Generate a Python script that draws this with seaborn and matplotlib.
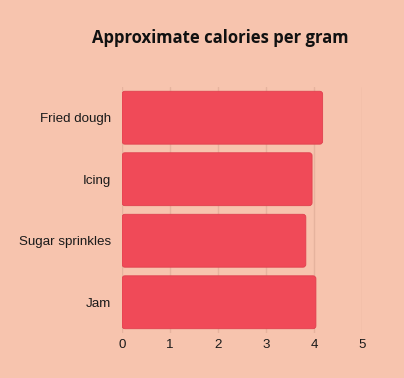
import matplotlib
matplotlib.use("Agg")
import matplotlib.pyplot as plt
from matplotlib.patches import FancyBboxPatch
import seaborn as sns
import pandas as pd

foods = ["Fried dough", "Icing", "Sugar sprinkles", "Jam"]
calories = [4.18, 3.96, 3.83, 4.04]

bg = "#f7c4ae"
bar_color = "#f04a58"
grid_color = "#e6b39e"

df = pd.DataFrame({"food": foods, "calories": calories})

sns.set_theme(style="white")
plt.rcParams["font.family"] = ["Liberation Sans", "DejaVu Sans"]

fig = plt.figure(figsize=(4.04, 3.78), dpi=100, facecolor=bg)
ax = fig.add_axes([0.302, 0.119, 0.594, 0.651])
ax.set_facecolor(bg)

sns.barplot(data=df, x="calories", y="food", color=bar_color, saturation=1,
            width=0.86, ax=ax)

ax.set_xlim(0, 5)
ax.set_ylim(3.5, -0.5)

# swap the plain rectangles for slightly rounded ones
for p in list(ax.patches):
    x0, y0 = p.get_x(), p.get_y()
    w, h = p.get_width(), p.get_height()
    rounded = FancyBboxPatch((x0, y0), w, h, boxstyle="round,pad=0,rounding_size=0.06",
                             mutation_aspect=0.78, facecolor=bar_color,
                             edgecolor="#e0404e", linewidth=0.6, zorder=3)
    p.remove()
    ax.add_patch(rounded)

ax.set_xticks([0, 1, 2, 3, 4, 5])
ax.xaxis.grid(True, color=grid_color, linewidth=1, zorder=0)
ax.set_axisbelow(True)
for s in ax.spines.values():
    s.set_visible(False)
ax.tick_params(axis="both", length=0, labelsize=9.6, colors="#1a1a1a")
ax.tick_params(axis="y", pad=8)
ax.tick_params(axis="x", pad=4)
ax.set_xlabel("")
ax.set_ylabel("")

fig.text(0.545, 0.90, "Approximate calories per gram", ha="center", va="center",
         fontsize=12, fontweight="bold", family=["Open Sans", "DejaVu Sans"], color="#111111")

fig.savefig("out.png", dpi=100, facecolor=bg)
